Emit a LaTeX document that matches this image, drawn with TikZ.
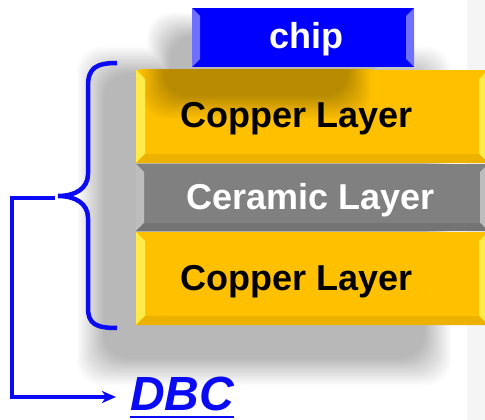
\documentclass[tikz,border=0pt]{standalone}
\usepackage{fontspec}
\setmainfont{Liberation Sans}
\usetikzlibrary{arrows.meta}
\definecolor{copper}{HTML}{FFC000}
\definecolor{copperlight}{HTML}{FFEB4A}
\definecolor{copperdark}{HTML}{EDB200}
\definecolor{ceramic}{HTML}{808080}
\definecolor{ceramiclight}{HTML}{BDBDBD}
\definecolor{ceramicdark}{HTML}{747474}
\definecolor{chipblue}{HTML}{0000FF}
\definecolor{chiplight}{HTML}{7070FF}
\definecolor{linkblue}{HTML}{0A0AF5}
\begin{document}
\begin{tikzpicture}[x=1pt,y=-1pt,
  layertext/.style={font=\fontsize{36}{40}\selectfont\bfseries, inner sep=0pt, anchor=base},
  link/.style={draw=linkblue, line width=3.5pt},
  shadowstep/.style={fill=#1, rounded corners=24pt},
]
\useasboundingbox (0,0) rectangle (485,420);
\clip (0,0) rectangle (485,420);
\fill[white] (0,0) rectangle (485,420);
\fill[black!4] (467,0) rectangle (485,420);
% big soft shadow behind the stack (opaque graded steps)
\foreach \i in {0,...,28}{
  \pgfmathsetmacro\k{\i*1.0}
  \fill[shadowstep=black!\k] (76+\i,46+\i) rectangle (452-\i,386-\i);
}
% shadow of the chip on the background (only darkens)
\begin{scope}[blend mode=darken]
  \foreach \i in {0,...,24}{
    \pgfmathsetmacro\k{\i*1.15}
    \fill[shadowstep=black!\k] (146+\i,12+\i) rectangle (398-\i,112-\i);
  }
\end{scope}
% copper top
\fill[copper] (136,70) rectangle (488,163);
% shadow of the chip on the top copper layer
\begin{scope}
  \clip (136,70) rectangle (488,163);
  \foreach \i in {0,...,24}{
    \pgfmathsetmacro\k{100-\i*1.15}
    \fill[shadowstep=copper!\k!black] (140+\i,26+\i) rectangle (372-\i,120-\i);
  }
\end{scope}
\fill[copperlight] (136,70) -- (145,79) -- (145,154) -- (136,163) -- cycle;
\fill[copperlight] (488,70) -- (479,79) -- (479,154) -- (488,163) -- cycle;
\fill[copperdark] (136,163) -- (145,154) -- (479,154) -- (488,163) -- cycle;
% ceramic
\fill[ceramic] (136,164) rectangle (488,231);
\fill[ceramiclight] (136,164) -- (144,172) -- (144,223) -- (136,231) -- cycle;
\fill[ceramiclight] (488,164) -- (480,172) -- (480,223) -- (488,231) -- cycle;
\fill[ceramicdark] (136,231) -- (144,223) -- (480,223) -- (488,231) -- cycle;
% copper bottom
\fill[copper] (136,232) rectangle (488,325);
\fill[copperlight] (136,232) -- (145,241) -- (145,316) -- (136,325) -- cycle;
\fill[copperlight] (488,232) -- (479,241) -- (479,316) -- (488,325) -- cycle;
\fill[copperdark] (136,325) -- (145,316) -- (479,316) -- (488,325) -- cycle;
% chip
\fill[chipblue] (192,8) rectangle (414,67);
\fill[chiplight] (192,8) -- (200,16) -- (200,59) -- (192,67) -- cycle;
\fill[chiplight] (414,8) -- (406,16) -- (406,59) -- (414,67) -- cycle;
% texts
\node[layertext, text=white] (chip) at (306,49) {chip};
\node[layertext, text=black] (cu1) at (296.5,128) {Copper Layer};
\node[layertext, text=white] (cer) at (310.5,209) {Ceramic Layer};
\node[layertext, text=black] (cu2) at (296.5,290) {Copper Layer};
\node[font=\fontsize{48}{52}\selectfont\bfseries\itshape, text=linkblue, inner sep=0pt, anchor=base west] (dbc) at (130,410) {DBC};
\draw[linkblue, line width=2pt] ([yshift=-6pt]dbc.south west) -- ([yshift=-6pt]dbc.south east);
% brace
\draw[linkblue, line width=4.5pt] (117,63) .. controls (96,63) and (88,68) .. (88,86) -- (88,174) .. controls (88,188) and (76,196) .. (58,196) .. controls (76,196) and (88,204) .. (88,218) -- (88,308) .. controls (88,324) and (96,328) .. (117,328);
% arrow
\coordinate (tip) at (55,198);
\coordinate (corner) at (12,198);
\draw[link, -{Stealth[length=14pt,width=12pt,inset=4pt]}] (tip) -- (corner) |- ([xshift=-14pt,yshift=13pt]dbc.base west);
\end{tikzpicture}
\end{document}
